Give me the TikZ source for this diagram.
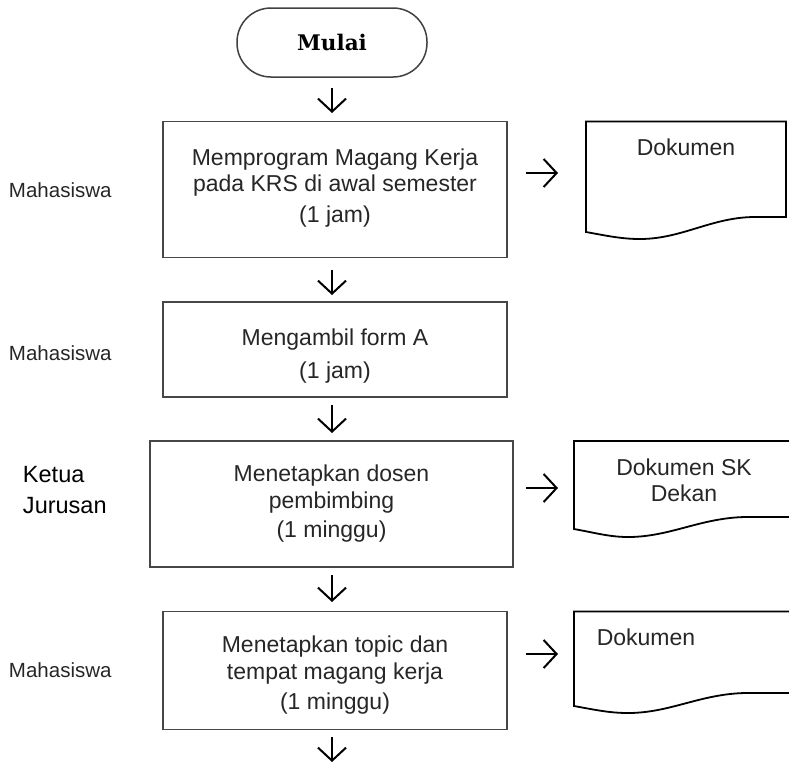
\documentclass[tikz,border=0pt]{standalone}
\usepackage{fontspec}
\setmainfont{Liberation Sans}
\newfontfamily\slabfont{DejaVu Serif}
\usetikzlibrary{arrows.meta,calc}
\tikzset{
  every node/.style={inner sep=0pt, outer sep=0pt},
  procbox/.style={draw=black!72, line width=1.8pt, rectangle},
  boxtext/.style={align=center, font=\fontsize{23}{26}\selectfont, text=black!85},
  term/.style={draw=black!75, line width=1.5pt, rectangle, rounded corners=34pt,
    minimum width=190pt, minimum height=69pt, font=\slabfont\bfseries\fontsize{21.5}{26}\selectfont},
  doctext/.style={align=center, font=\fontsize{23}{26}\selectfont, text=black!85},
  docline/.style={draw=black, line width=1.8pt, line join=miter},
  role/.style={align=left, anchor=west, font=\fontsize{20.5}{24}\selectfont, text=black!85},
  rolebig/.style={align=left, anchor=west, font=\fontsize{23.5}{31}\selectfont, text=black},
  arr/.style={line width=2pt, -{Straight Barb[length=13pt, width=28pt]}},
}
\begin{document}
\begin{tikzpicture}[x=1pt,y=-1pt]
\useasboundingbox (0,0) rectangle (789,764);
\clip (0,0) rectangle (789,764);

% terminal
\node[term] (start) at (332,42.5) {Mulai};

% process boxes
\node[procbox, minimum width=344pt, minimum height=136pt] (b1) at (335,189.5) {};
\node[boxtext] (t1) at (335,188) {Memprogram Magang Kerja\\pada KRS di awal semester\\[5pt](1 jam)};

\node[procbox, minimum width=344pt, minimum height=95pt] (b2) at (335,349.5) {};
\node[boxtext] (t2) at (335,356) {Mengambil form A\\[7pt](1 jam)};

\node[procbox, minimum width=363pt, minimum height=126pt] (b3) at (331.5,504) {};
\node[boxtext] (t3) at (331.5,504) {Menetapkan dosen\\[1pt]pembimbing\\[3pt](1 minggu)};

\node[procbox, minimum width=344pt, minimum height=118pt] (b4) at (335,670.5) {};
\node[boxtext] (t4) at (335,675.5) {Menetapkan topic dan\\[1pt]tempat magang kerja\\[4pt](1 minggu)};

% role labels
\node[role] (r1) at (9,190) {Mahasiswa};
\node[role] (r2) at (9,353) {Mahasiswa};
\node[rolebig] (r3) at (23,490) {Ketua\\Jurusan};
\node[role] (r4) at (9,670) {Mahasiswa};

% documents
\draw[docline] (786,217) -- (786,121.5) -- (586,121.5) -- (586,232)
  .. controls (608,236) and (622,239) .. (640,239)
  .. controls (682,239) and (712,217) .. (755,217) -- cycle;
\node[doctext] (d1) at (686,147) {Dokumen};

\draw[docline] (800,517) -- (800,441) -- (574,441) -- (574,529)
  .. controls (596,533) and (610,537) .. (628,537)
  .. controls (670,537) and (700,518) .. (745,517) -- cycle;
\node[doctext] (d2) at (684,480) {Dokumen SK\\Dekan};

\draw[docline] (800,693) -- (800,611.5) -- (574,611.5) -- (574,706)
  .. controls (596,710) and (610,713) .. (628,713)
  .. controls (670,713) and (700,694) .. (745,693) -- cycle;
\node[doctext] (d3) at (646,637) {Dokumen};

% coordinates for arrow ends
\coordinate (d1w) at (586,173);
\coordinate (d2w) at (574,488);
\coordinate (d3w) at (574,654);
\coordinate (endp) at (332,762);

% vertical arrows
\draw[arr, shorten <=11pt, shorten >=8.5pt] (start.south) -- (b1.north -| start.south);
\draw[arr, shorten <=12.5pt, shorten >=7pt] (b1.south -| start.south) -- (b2.north -| start.south);
\draw[arr, shorten <=8pt, shorten >=8pt] (b2.south -| start.south) -- (b3.north -| start.south);
\draw[arr, shorten <=8pt, shorten >=9.5pt] (b3.south -| start.south) -- (b4.north -| start.south);
\draw[arr, shorten <=7.5pt] (b4.south -| start.south) -- (endp);

% horizontal arrows
\draw[arr, shorten <=19pt, shorten >=28pt] (b1.east |- d1w) -- (d1w);
\draw[arr, shorten <=13pt, shorten >=16pt] (b3.east |- d2w) -- (d2w);
\draw[arr, shorten <=19pt, shorten >=16pt] (b4.east |- d3w) -- (d3w);
\end{tikzpicture}
\end{document}
